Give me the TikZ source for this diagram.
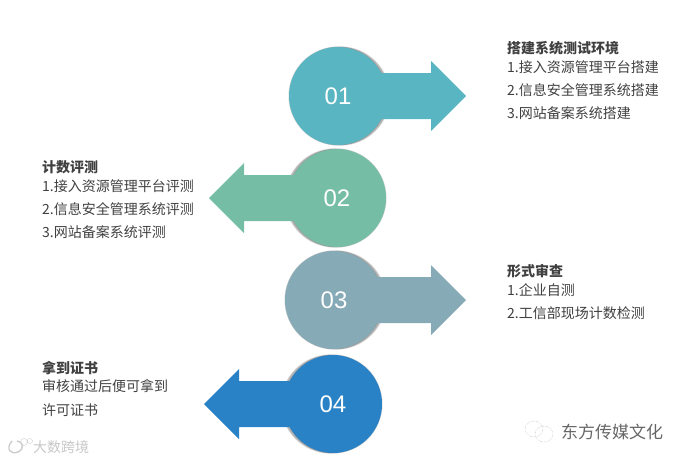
\documentclass[tikz,border=0pt]{standalone}
\usepackage{fontspec}
\setmainfont{Noto Sans CJK SC}
\newfontfamily\numfont{Liberation Sans}
\usepackage{xcolor}
\usetikzlibrary{positioning}
\definecolor{ca}{HTML}{58B5C1}
\definecolor{cb}{HTML}{76BDA6}
\definecolor{cc}{HTML}{86AAB6}
\definecolor{cd}{HTML}{2A82C6}
\definecolor{txt}{HTML}{404040}
\begin{document}
\begin{tikzpicture}[x=1pt,y=-1pt,font=\fontsize{14}{16}\selectfont,text=txt]
  \tikzstyle{num}=[circle,minimum size=98pt,inner sep=0pt,text=white,font=\numfont\fontsize{24}{26}\selectfont]
  \tikzstyle{ti}=[anchor=west,inner sep=0pt,font=\fontsize{14}{16}\selectfont\bfseries]
  \tikzstyle{bd}=[anchor=west,inner sep=0pt]
  \tikzstyle{wm}=[anchor=west,inner sep=0pt]
  \useasboundingbox (0,0) rectangle (683,461);
  % circle x / y, arrow direction, tip x, colour
  \foreach \n/\x/\y/\d/\t/\c in {1/338/96/1/466/ca,2/337/198/-1/209/cb,3/334/300/1/466/cc,4/333/404/-1/204/cd}{
    \foreach \r/\o in {49.8/.07,49.4/.10,49/.14} \fill[black,opacity=\o] (\x+\d*2.5,\y) circle (\r);
    \fill[black,opacity=.18] (\x,\y) circle (49.5);
    \fill[\c] (\x,\y-23) -- (\t-\d*35,\y-23) -- (\t-\d*35,\y-35) -- (\t,\y) -- (\t-\d*35,\y+35) -- (\t-\d*35,\y+23) -- (\x,\y+23) -- cycle;
    \node[num,fill=\c] (c\n) at (\x,\y) {0\n};
  }
  \node[ti] (t1) at (507,48) {搭建系统测试环境};
  \node[bd] (t1a) at (507,67.5) {1.接入资源管理平台搭建};
  \node[bd,below=23pt of t1a.west,anchor=west] (t1b) {2.信息安全管理系统搭建};
  \node[bd,below=23pt of t1b.west,anchor=west] (t1c) {3.网站备案系统搭建};
  \node[ti] (t2) at (42,167) {计数评测};
  \node[bd] (t2a) at (42,186.5) {1.接入资源管理平台评测};
  \node[bd,below=23pt of t2a.west,anchor=west] (t2b) {2.信息安全管理系统评测};
  \node[bd,below=23pt of t2b.west,anchor=west] (t2c) {3.网站备案系统评测};
  \node[ti] (t3) at (507,271) {形式审查};
  \node[bd] (t3a) at (507,290.5) {1.企业自测};
  \node[bd,below=23pt of t3a.west,anchor=west] (t3b) {2.工信部现场计数检测};
  \node[ti] (t4) at (42,368) {拿到证书};
  \node[bd] (t4a) at (42,386.5) {审核通过后便可拿到};
  \node[bd,below=24pt of t4a.west,anchor=west] (t4b) {许可证书};
  % watermarks
  \node[wm,font=\fontsize{14}{16}\selectfont,text=black!22] (w1) at (33,447) {大数跨境};
  \draw[black!20,line width=1.4pt] (12,441) .. controls (5,449) and (11,455) .. (18,452) .. controls (25,449) and (23,441) .. (17,441);
  \draw[black!20,thin] (24,442) circle (3.5) (30,441) circle (2.5);
  \node[wm,font=\fontsize{17}{19}\selectfont,text=black!60] (w2) at (561,432) {东方传媒文化};
  \draw[black!35,densely dotted] (534,429) ellipse (9 and 8) (544,434) ellipse (9 and 8);
\end{tikzpicture}
\end{document}
